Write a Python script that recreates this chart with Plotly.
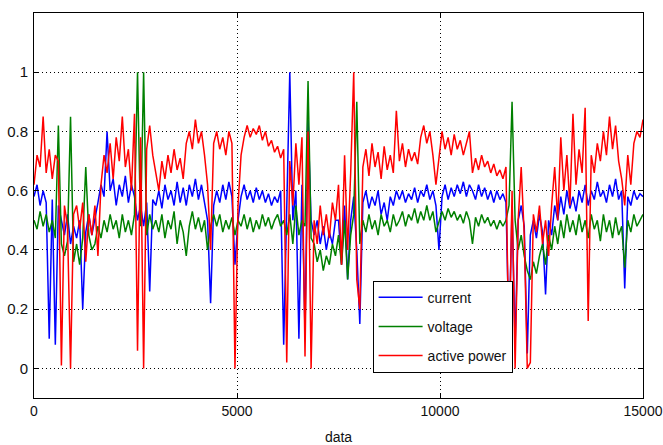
import plotly.graph_objects as go

STEP = 75  # sample spacing along the "data" axis

current = [
    0.58, 0.62, 0.55, 0.60, 0.56, 0.10, 0.57, 0.08, 0.55, 0.50, 0.45, 0.52, 0.42, 0.48, 0.44, 0.50, 0.20, 0.46, 0.52, 0.45,
    0.50, 0.56, 0.62, 0.58, 0.80, 0.60, 0.64, 0.55, 0.62, 0.58, 0.65, 0.56, 0.62, 0.58, 0.50, 0.55, 0.48, 0.56, 0.26, 0.57,
    0.55, 0.60, 0.54, 0.62, 0.57, 0.60, 0.55, 0.63, 0.56, 0.61, 0.55, 0.62, 0.58, 0.64, 0.57, 0.62, 0.56, 0.50, 0.22, 0.55,
    0.60, 0.56, 0.62, 0.57, 0.63, 0.58, 0.35, 0.50, 0.58, 0.62, 0.57, 0.60, 0.56, 0.61, 0.57, 0.60, 0.56, 0.59, 0.55, 0.58,
    0.56, 0.60, 0.08, 0.55, 1.00, 0.50, 0.60, 0.10, 0.62, 0.12, 0.84, 0.50, 0.45, 0.50, 0.42, 0.48, 0.40, 0.46, 0.42, 0.50,
    0.50, 0.35, 0.55, 0.30, 0.50, 0.58, 0.40, 0.15, 0.56, 0.60, 0.54, 0.58, 0.55, 0.60, 0.52, 0.56, 0.50, 0.58, 0.55, 0.60,
    0.57, 0.60, 0.56, 0.59, 0.57, 0.61, 0.56, 0.60, 0.58, 0.62, 0.57, 0.60, 0.55, 0.40, 0.58, 0.62, 0.57, 0.61, 0.58, 0.62,
    0.59, 0.63, 0.58, 0.62, 0.60, 0.57, 0.62, 0.58, 0.61, 0.57, 0.60, 0.56, 0.60, 0.57, 0.59, 0.56, 0.10, 0.55, 0.08, 0.50,
    0.55, 0.48, 0.05, 0.45, 0.50, 0.44, 0.52, 0.46, 0.25, 0.50, 0.45, 0.55, 0.50, 0.58, 0.52, 0.60, 0.54, 0.58, 0.53, 0.60,
    0.56, 0.62, 0.55, 0.60, 0.57, 0.63, 0.58, 0.60, 0.56, 0.62, 0.58, 0.64, 0.57, 0.60, 0.27, 0.58, 0.55, 0.60, 0.57, 0.59,
    0.58,
]

voltage = [
    0.50, 0.47, 0.53, 0.48, 0.52, 0.46, 0.50, 0.44, 0.82, 0.42, 0.38, 0.43, 0.85, 0.36, 0.42, 0.35, 0.44, 0.68, 0.45, 0.40,
    0.42, 0.48, 0.44, 0.50, 0.46, 0.52, 0.47, 0.50, 0.44, 0.52, 0.46, 0.50, 0.45, 0.52, 1.00, 0.48, 1.00, 0.45, 0.52, 0.47,
    0.50, 0.46, 0.52, 0.44, 0.50, 0.47, 0.53, 0.42, 0.50, 0.46, 0.38, 0.48, 0.53, 0.47, 0.51, 0.46, 0.50, 0.40, 0.48, 0.52,
    0.48, 0.52, 0.46, 0.50, 0.47, 0.51, 0.45, 0.50, 0.48, 0.52, 0.47, 0.51, 0.46, 0.50, 0.47, 0.52, 0.48, 0.51, 0.47, 0.50,
    0.52, 0.48, 0.50, 0.45, 0.52, 0.42, 0.55, 0.45, 0.50, 0.48, 0.97, 0.44, 0.42, 0.36, 0.40, 0.33, 0.38, 0.35, 0.42, 0.38,
    0.45, 0.35, 0.50, 0.30, 0.45, 0.52, 0.90, 0.42, 0.50, 0.46, 0.52, 0.47, 0.50, 0.45, 0.52, 0.48, 0.50, 0.46, 0.52, 0.48,
    0.50, 0.53, 0.48, 0.52, 0.50, 0.54, 0.49, 0.53, 0.50, 0.55, 0.50, 0.53, 0.46, 0.50, 0.53, 0.50, 0.54, 0.51, 0.53, 0.50,
    0.52, 0.49, 0.53, 0.50, 0.42, 0.51, 0.48, 0.52, 0.49, 0.51, 0.48, 0.50, 0.47, 0.50, 0.48, 0.50, 0.55, 0.90, 0.50, 0.40,
    0.45, 0.38, 0.33, 0.30, 0.36, 0.32, 0.38, 0.42, 0.35, 0.45, 0.40, 0.48, 0.42, 0.50, 0.44, 0.52, 0.46, 0.50, 0.45, 0.52,
    0.46, 0.50, 0.44, 0.52, 0.47, 0.50, 0.43, 0.52, 0.46, 0.50, 0.44, 0.51, 0.45, 0.48, 0.34, 0.50, 0.46, 0.52, 0.48, 0.50,
    0.52,
]

active_power = [
    0.62, 0.72, 0.68, 0.85, 0.66, 0.74, 0.64, 0.72, 0.70, 0.01, 0.55, 0.48, 0.00, 0.52, 0.55, 0.47, 0.56, 0.36, 0.52, 0.45,
    0.55, 0.38, 0.62, 0.72, 0.66, 0.76, 0.64, 0.78, 0.70, 0.85, 0.68, 0.74, 0.60, 0.86, 0.06, 0.78, 0.00, 0.74, 0.82, 0.72,
    0.66, 0.60, 0.70, 0.64, 0.72, 0.66, 0.74, 0.67, 0.71, 0.64, 0.76, 0.80, 0.74, 0.84, 0.76, 0.80, 0.72, 0.62, 0.40, 0.76,
    0.80, 0.74, 0.78, 0.72, 0.80, 0.76, 0.00, 0.55, 0.72, 0.78, 0.82, 0.78, 0.81, 0.79, 0.82, 0.77, 0.80, 0.75, 0.77, 0.73,
    0.75, 0.71, 0.74, 0.02, 0.70, 0.55, 0.76, 0.62, 0.78, 0.04, 0.80, 0.00, 0.50, 0.42, 0.55, 0.45, 0.52, 0.44, 0.56, 0.50,
    0.62, 0.35, 0.72, 0.40, 0.66, 1.00, 0.30, 0.20, 0.68, 0.74, 0.65, 0.76, 0.68, 0.73, 0.64, 0.75, 0.67, 0.72, 0.66, 0.87,
    0.70, 0.76, 0.68, 0.74, 0.70, 0.73, 0.69, 0.78, 0.82, 0.76, 0.80, 0.72, 0.62, 0.70, 0.80, 0.74, 0.78, 0.72, 0.79, 0.74,
    0.77, 0.72, 0.76, 0.80, 0.66, 0.71, 0.67, 0.72, 0.68, 0.70, 0.66, 0.69, 0.65, 0.67, 0.64, 0.68, 0.02, 0.60, 0.00, 0.50,
    0.68, 0.45, 0.00, 0.02, 0.52, 0.46, 0.55, 0.42, 0.50, 0.38, 0.55, 0.68, 0.50, 0.78, 0.60, 0.72, 0.55, 0.86, 0.62, 0.74,
    0.66, 0.88, 0.16, 0.72, 0.66, 0.76, 0.70, 0.80, 0.72, 0.85, 0.74, 0.82, 0.70, 0.64, 0.55, 0.72, 0.62, 0.76, 0.80, 0.78,
    0.84,
]

series_names = ["current", "voltage", "active power"]
x_tick_vals = [0, 5000, 10000, 15000]
x_tick_text = ["0", "5000", "10000", "15000"]
y_tick_vals = [0, 0.2, 0.4, 0.6, 0.8, 1.0]
y_tick_text = ["0", "0.2", "0.4", "0.6", "0.8", "1"]

colors = ["#0000FF", "#008000", "#FF0000"]
FONT = "Liberation Sans, Arial, sans-serif"

fig = go.Figure()
for name, vals, col in zip(series_names, [current, voltage, active_power], colors):
    xs = [i * STEP for i in range(len(vals))]
    fig.add_trace(go.Scatter(x=xs, y=vals, mode="lines", name=name,
                             legendgroup=name,
                             line=dict(color=col, width=1.5)))

axis_common = dict(
    showline=True, linecolor="black", linewidth=1, mirror="ticks",
    ticks="inside", ticklen=5, tickcolor="black",
    showgrid=True, gridcolor="black", griddash="1px,3px", gridwidth=1,
    zeroline=False, automargin=False, ticklabeloverflow="allow",
)

fig.update_layout(
    width=663, height=445,
    margin=dict(l=34, r=20, t=13, b=47),
    paper_bgcolor="white", plot_bgcolor="white",
    font=dict(family=FONT, color="#111111"),
    xaxis=dict(range=[0, 15000], tickvals=x_tick_vals, ticktext=x_tick_text,
               tickfont=dict(family=FONT, size=14, color="#111111"),
               title=dict(text="data", font=dict(family=FONT, size=14), standoff=14),
               **axis_common),
    yaxis=dict(range=[-0.1, 1.2], tickvals=y_tick_vals, ticktext=y_tick_text,
               tickfont=dict(family=FONT, size=15, color="#111111"),
               ticklabelstandoff=2, **axis_common),
    legend=dict(x=0.556, y=0.305, xanchor="left", yanchor="top",
                bgcolor="white", bordercolor="black", borderwidth=1,
                font=dict(family=FONT, size=14, color="#111111"),
                tracegroupgap=8, itemwidth=44),
    showlegend=True,
)

fig.write_html("out.html")
